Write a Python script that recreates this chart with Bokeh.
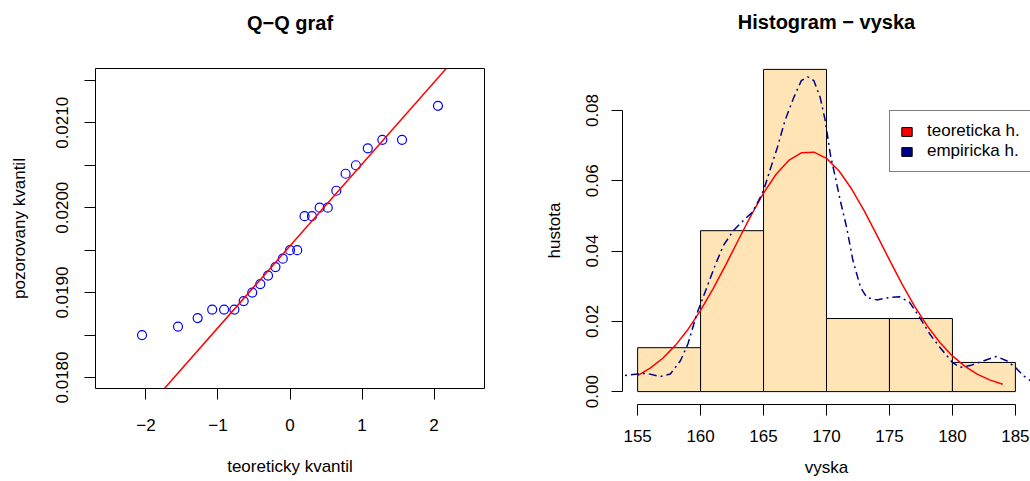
import numpy as np
from bokeh.plotting import figure
from bokeh.models import (Range1d, FixedTicker, CustomJSTickFormatter, Slope,
                          Legend, LegendItem, Title)
from bokeh.layouts import row
from bokeh.embed import file_html
from bokeh.resources import INLINE

FONT = "Liberation Sans"
FS = "17px"
TFS = "20px"

# ---------------- Q-Q data ----------------
theor_q = [-2.054, -1.555, -1.282, -1.080, -0.915, -0.772, -0.643, -0.524, -0.412,
           -0.305, -0.202, -0.100, 0.000, 0.100, 0.202, 0.305, 0.412, 0.524,
           0.643, 0.772, 0.915, 1.080, 1.282, 1.555, 2.054]
sample_q = [0.0185, 0.0186, 0.0187, 0.0188, 0.0188, 0.0188, 0.0189, 0.0190, 0.0191,
            0.0192, 0.0193, 0.0194, 0.0195, 0.0195, 0.0199, 0.0199, 0.0200, 0.0200,
            0.0202, 0.0204, 0.0205, 0.0207, 0.0208, 0.0208, 0.0212]
qq_xticks = [-2, -1, 0, 1, 2]
qq_yticks = [0.0180, 0.0185, 0.0190, 0.0195, 0.0200, 0.0205, 0.0210, 0.0215]

# ---------------- histogram data ----------------
bin_edges = [155, 160, 165, 170, 175, 180, 185]
hist_density = [0.0125, 0.0458, 0.0917, 0.0208, 0.0208, 0.0083]
norm_x = [155, 156, 157, 158, 159, 160, 161, 162, 163, 164, 165, 166, 167, 168, 169,
          170, 171, 172, 173, 174, 175, 176, 177, 178, 179, 180, 181, 182, 183, 184]
norm_y = [0.00454, 0.00666, 0.00950, 0.01316, 0.01769, 0.02310, 0.02929, 0.03607,
          0.04314, 0.05009, 0.05649, 0.06187, 0.06579, 0.06795, 0.06815, 0.06638,
          0.06278, 0.05766, 0.05143, 0.04455, 0.03747, 0.03061, 0.02428, 0.01870,
          0.01399, 0.01016, 0.00717, 0.00491, 0.00327, 0.00211]
kde_x = [154.0, 155.0, 155.7, 156.8, 157.6, 158.4, 159.0, 159.7, 160.5, 161.2, 161.8,
         162.6, 163.4, 164.1, 164.6, 165.0, 165.5, 166.1, 166.7, 167.4, 168.0, 168.5,
         169.0, 169.5, 169.9, 170.3, 170.7, 171.1, 171.6, 172.1, 172.7, 173.2, 174.0,
         175.0, 175.8, 176.6, 177.4, 178.2, 179.0, 180.0, 180.6, 181.4, 182.5, 183.5,
         184.3, 185.0, 185.6, 186.2]
kde_y = [0.0046, 0.0050, 0.0052, 0.0043, 0.0050, 0.0088, 0.0136, 0.0221, 0.0297,
         0.0363, 0.0415, 0.0458, 0.0487, 0.0510, 0.0543, 0.0572, 0.0629, 0.0695,
         0.0771, 0.0837, 0.0885, 0.0896, 0.0885, 0.0837, 0.0771, 0.0676, 0.0610,
         0.0543, 0.0467, 0.0373, 0.0297, 0.0268, 0.0261, 0.0268, 0.0270, 0.0254,
         0.0211, 0.0164, 0.0126, 0.0083, 0.0069, 0.0074, 0.0088, 0.0100, 0.0088,
         0.0069, 0.0046, 0.0031]
hist_xticks = [155, 160, 165, 170, 175, 180, 185]
hist_yticks = [0.00, 0.02, 0.04, 0.06, 0.08]
legend_labels = ["teoreticka h.", "empiricka h."]
legend_colors = ["red", "#00008B"]


def style_axis(ax, ticks, code, bounds, standoff, label_standoff):
    ax.ticker = FixedTicker(ticks=ticks)
    ax.formatter = CustomJSTickFormatter(code=code)
    ax.bounds = bounds
    ax.major_tick_out = 11
    ax.major_tick_in = 0
    ax.minor_tick_out = 0
    ax.minor_tick_in = 0
    ax.major_tick_line_color = "black"
    ax.axis_line_color = "black"
    ax.major_label_text_font = FONT
    ax.major_label_text_font_size = FS
    ax.major_label_text_color = "black"
    ax.major_label_standoff = standoff
    ax.axis_label_text_font = FONT
    ax.axis_label_text_font_size = FS
    ax.axis_label_text_font_style = "normal"
    ax.axis_label_text_color = "black"
    ax.axis_label_standoff = label_standoff


def add_titles(p, text, gap):
    # invisible spacer next to the frame, then the real title above it
    p.add_layout(Title(text=" ", text_font_size="1px", standoff=gap), "above")
    p.add_layout(Title(text=text, align="center", text_font=FONT,
                       text_font_size=TFS, text_font_style="bold",
                       text_color="black", standoff=0), "above")


def no_align(p):
    try:
        p.frame_align = False
    except Exception:
        pass


# ---------------- left: Q-Q plot ----------------
p1 = figure(width=515, height=481, x_range=Range1d(-2.70, 2.70),
            y_range=Range1d(0.01787, 0.02164), output_backend="svg",
            toolbar_location=None, tools="",
            min_border_left=95, min_border_right=31, min_border_top=68,
            min_border_bottom=93, title=None)
no_align(p1)
add_titles(p1, "Q\u2212Q graf", 32)
p1.outline_line_color = "black"
p1.outline_line_width = 1
p1.outline_line_alpha = 1
p1.xgrid.grid_line_color = None
p1.ygrid.grid_line_color = None
p1.background_fill_color = "white"
p1.border_fill_color = "white"

p1.xaxis.axis_label = "teoreticky kvantil"
p1.yaxis.axis_label = "pozorovany kvantil"
style_axis(p1.xaxis[0], qq_xticks,
           "return tick < 0 ? '\u2212' + Math.abs(tick).toString() : tick.toString();",
           (qq_xticks[0], qq_xticks[-1]), 19, 23)
style_axis(p1.yaxis[0], qq_yticks,
           "const v = Math.round(tick*10000); return (v % 10 === 0) ? tick.toFixed(4) : '';",
           (qq_yticks[0], qq_yticks[-1]), 16, 25)
p1.yaxis.major_label_orientation = "vertical"

p1.scatter(theor_q, sample_q, marker="circle", size=9, fill_color=None,
           line_color="blue", line_width=1.2)

ys = np.sort(np.array(sample_q))
q1, q3 = np.quantile(ys, [0.25, 0.75])
zq = 0.6745
slope = (q3 - q1) / (2 * zq)
intercept = q1 + zq * slope
p1.add_layout(Slope(gradient=slope, y_intercept=intercept, line_color="red",
                    line_width=1.5))

# ---------------- right: histogram ----------------
p2 = figure(width=515, height=481, x_range=Range1d(153.8, 186.2),
            y_range=Range1d(-0.00367, 0.09537), output_backend="svg",
            toolbar_location=None, tools="",
            min_border_left=107, min_border_right=0, min_border_top=56,
            min_border_bottom=77, title=None)
no_align(p2)
add_titles(p2, "Histogram \u2212 vyska", 21)
p2.outline_line_color = None
p2.xgrid.grid_line_color = None
p2.ygrid.grid_line_color = None
p2.background_fill_color = "white"
p2.border_fill_color = "white"

p2.xaxis.axis_label = "vyska"
p2.yaxis.axis_label = "hustota"
style_axis(p2.xaxis[0], hist_xticks, "return tick.toFixed(0);",
           (hist_xticks[0], hist_xticks[-1]), 14, 13)
style_axis(p2.yaxis[0], hist_yticks, "return tick.toFixed(2);",
           (hist_yticks[0], hist_yticks[-1]), 13, 20)
p2.yaxis.major_label_orientation = "vertical"

p2.quad(left=bin_edges[:-1], right=bin_edges[1:], bottom=0, top=hist_density,
        fill_color="#FFE4B5", line_color="black", line_width=1)
p2.line(norm_x, norm_y, line_color="red", line_width=1.5)
p2.line(kde_x, kde_y, line_color="#00008B", line_width=1.5, line_dash="2 4 8 4")

nan = float("nan")
leg_renderers = [p2.quad(left=[nan], right=[nan], top=[nan], bottom=[nan],
                         fill_color=c, line_color="black", line_width=1)
                 for c in legend_colors]
legend = Legend(items=[LegendItem(label=lab, renderers=[r])
                       for lab, r in zip(legend_labels, leg_renderers)],
                location=(267, 232))
legend.glyph_width = 13
legend.glyph_height = 11
legend.label_standoff = 14
legend.padding = 10
legend.spacing = 0
legend.margin = 0
legend.label_height = 18
legend.label_text_font = FONT
legend.label_text_font_size = FS
legend.label_text_color = "black"
legend.border_line_color = "black"
legend.border_line_width = 1
legend.background_fill_color = "white"
legend.background_fill_alpha = 1
p2.add_layout(legend)

layout = row(p1, p2)
open("out.html", "w").write(file_html(layout, INLINE))
